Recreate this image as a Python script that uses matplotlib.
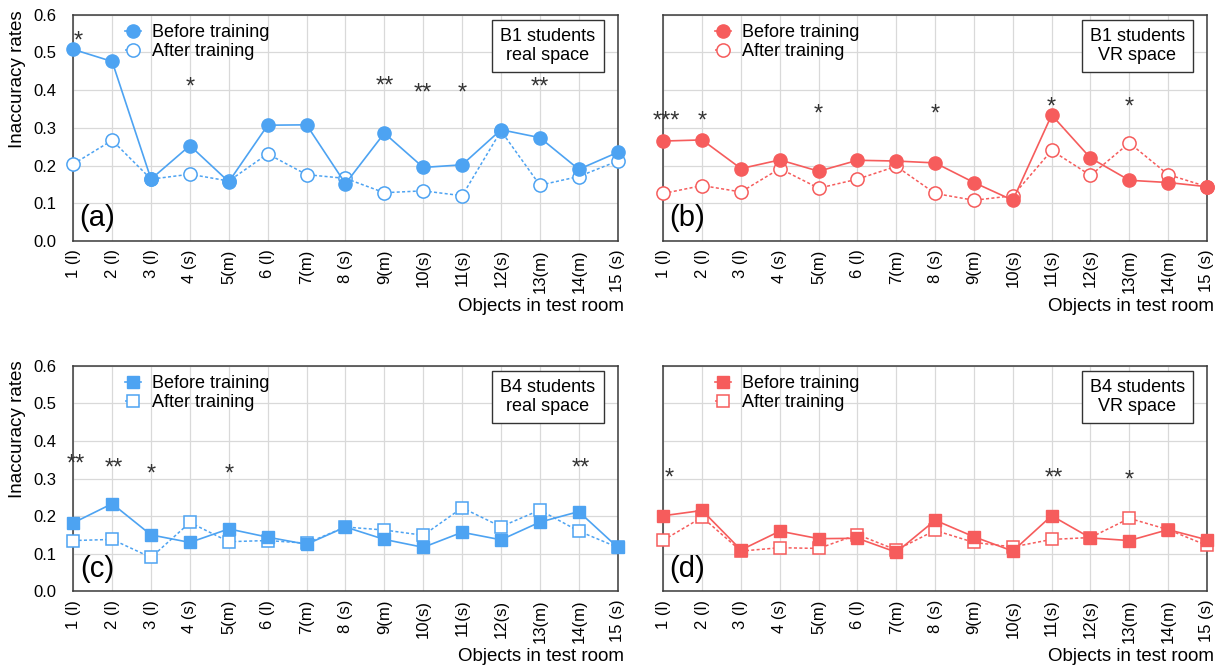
import matplotlib.pyplot as plt
import numpy as np

plt.rcParams["font.family"] = ["Liberation Sans", "DejaVu Sans"]

objects = ["1 (l)", "2 (l)", "3 (l)", "4 (s)", "5(m)", "6 (l)", "7(m)", "8 (s)",
           "9(m)", "10(s)", "11(s)", "12(s)", "13(m)", "14(m)", "15 (s)"]
x = np.arange(1, len(objects) + 1)

# inaccuracy rates per object, before / after training
b1_real_before = [0.508, 0.476, 0.164, 0.253, 0.157, 0.307, 0.308, 0.152,
                  0.286, 0.195, 0.202, 0.295, 0.274, 0.190, 0.235]
b1_real_after = [0.204, 0.267, 0.164, 0.177, 0.159, 0.231, 0.176, 0.166,
                 0.128, 0.133, 0.120, 0.292, 0.148, 0.171, 0.212]
b1_vr_before = [0.265, 0.268, 0.192, 0.215, 0.185, 0.214, 0.212, 0.207,
                0.155, 0.108, 0.334, 0.220, 0.161, 0.155, 0.144]
b1_vr_after = [0.126, 0.147, 0.130, 0.192, 0.140, 0.164, 0.198, 0.126,
               0.108, 0.120, 0.240, 0.174, 0.260, 0.176, 0.144]
b4_real_before = [0.182, 0.233, 0.150, 0.130, 0.166, 0.144, 0.125, 0.171,
                  0.138, 0.117, 0.157, 0.137, 0.184, 0.212, 0.117]
b4_real_after = [0.135, 0.138, 0.090, 0.183, 0.132, 0.135, 0.128, 0.171,
                 0.163, 0.149, 0.222, 0.172, 0.216, 0.160, 0.117]
b4_vr_before = [0.201, 0.215, 0.110, 0.160, 0.140, 0.141, 0.104, 0.189,
                0.145, 0.107, 0.201, 0.142, 0.135, 0.164, 0.137]
b4_vr_after = [0.136, 0.197, 0.107, 0.116, 0.114, 0.151, 0.110, 0.162,
               0.130, 0.118, 0.138, 0.143, 0.194, 0.164, 0.122]

# significance marks: (x, y, text)
b1_real_marks = [(1.12, 0.55, "*"), (4, 0.428, "*"), (9, 0.431, "**"),
                 (10, 0.411, "**"), (11, 0.411, "*"), (13, 0.428, "**")]
b1_vr_marks = [(1.07, 0.338, "***"), (2, 0.338, "*"), (5, 0.356, "*"),
               (8, 0.356, "*"), (11, 0.375, "*"), (13, 0.375, "*")]
b4_real_marks = [(1.07, 0.357, "**"), (2.05, 0.347, "**"), (3, 0.332, "*"),
                 (5, 0.332, "*"), (14.05, 0.347, "**")]
b4_vr_marks = [(1.15, 0.32, "*"), (11.05, 0.32, "**"), (13, 0.316, "*")]

BLUE = "#4da3f2"
RED = "#f65c5c"

panels = [
    ("(a)", "B1 students\nreal space", b1_real_before, b1_real_after, b1_real_marks,
     BLUE, "o", [0.0597, 0.6376, 0.4437, 0.3403], True),
    ("(b)", "B1 students\nVR space", b1_vr_before, b1_vr_after, b1_vr_marks,
     RED, "o", [0.5406, 0.6376, 0.4431, 0.3403], False),
    ("(c)", "B4 students\nreal space", b4_real_before, b4_real_after, b4_real_marks,
     BLUE, "s", [0.0597, 0.1108, 0.4437, 0.3393], True),
    ("(d)", "B4 students\nVR space", b4_vr_before, b4_vr_after, b4_vr_marks,
     RED, "s", [0.5406, 0.1108, 0.4431, 0.3393], False),
]

fig = plt.figure(figsize=(12.27, 6.65), dpi=100)

for tag, group, before, after, marks, color, marker, rect, left_col in panels:
    ax = fig.add_axes(rect)
    ms = 9.5 if marker == "o" else 9
    ax.plot(x, after, linestyle=(0, (2, 1.5)), lw=1.1, color=color, marker=marker,
            ms=ms, mfc="white", mec=color, mew=1.1, label="After training",
            clip_on=False, zorder=3)
    ax.plot(x, before, linestyle="-", lw=1.2, color=color, marker=marker,
            ms=ms, mfc=color, mec=color, label="Before training",
            clip_on=False, zorder=4)

    for mx, my, txt in marks:
        ax.annotate(txt, (mx, my), xytext=(0, -9.9), textcoords="offset points",
                    ha="center", va="baseline", fontsize=17, color="#333333")

    ax.set_xlim(1, 15)
    ax.set_ylim(0, 0.6)
    ax.set_xticks(x)
    ax.set_xticklabels(objects, rotation=90, fontsize=12)
    ax.set_yticks(np.arange(0, 0.61, 0.1))
    if left_col:
        ax.set_yticklabels([f"{v:.1f}" for v in np.arange(0, 0.61, 0.1)], fontsize=12)
        ax.set_ylabel("Inaccuracy rates", fontsize=13.5)
        ax.yaxis.set_label_coords(-0.087, 0.717)
    else:
        ax.set_yticklabels([])
    ax.tick_params(axis="both", length=0)
    ax.tick_params(axis="y", pad=12)
    ax.tick_params(axis="x", pad=6)
    ax.grid(True, color="#d9d9d9", lw=0.9)
    ax.set_axisbelow(True)
    for sp in ax.spines.values():
        sp.set_color("#3a3a3a")
        sp.set_linewidth(1.1)

    ax.set_xlabel("Objects in test room", fontsize=13.5, ha="right")
    ax.xaxis.set_label_coords(1.012, -0.25)

    ax.text(0.0435, 0.10, tag, transform=ax.transAxes, fontsize=21,
            ha="center", va="center")
    ax.text(0.872, 0.861, group, transform=ax.transAxes, fontsize=13,
            ha="center", va="center", linespacing=1.15,
            bbox=dict(boxstyle="square,pad=0.45", fc="white", ec="#333333", lw=1.0))

    handles, labels = ax.get_legend_handles_labels()
    ax.legend(handles[::-1], labels[::-1], loc="upper left",
              bbox_to_anchor=(0.095, 0.958), frameon=False, fontsize=13,
              handlelength=0.9, handletextpad=0.6, labelspacing=0.12,
              borderpad=0, borderaxespad=0)

fig.savefig("out.png", dpi=100)
